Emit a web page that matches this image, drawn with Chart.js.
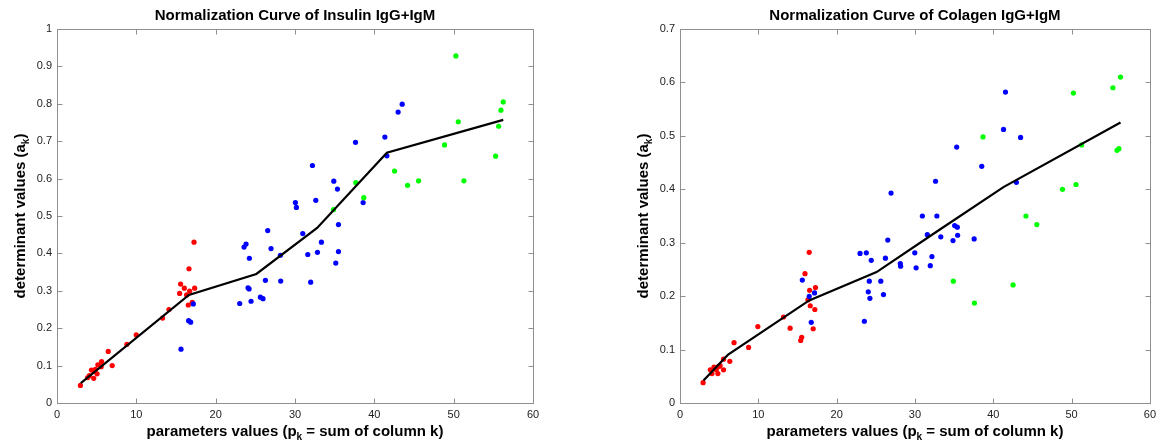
<!DOCTYPE html>
<html><head><meta charset="utf-8">
<script src="https://cdn.jsdelivr.net/npm/chart.js@4.4.1/dist/chart.umd.min.js"></script>
<style>
html,body{margin:0;padding:0;background:#fff;}
#wrap{position:relative;width:1161px;height:445px;overflow:hidden;background:#fff;}
.box{position:absolute;top:0;height:445px;}
</style></head><body>
<div id="wrap">
<div class="box" style="left:0;width:580px"><canvas id="c1" width="580" height="445"></canvas></div>
<div class="box" style="left:580px;width:581px"><canvas id="c2" width="581" height="445"></canvas></div>
</div>
<script>
// ---------- Tick labels ----------
const xTicks = [0, 10, 20, 30, 40, 50, 60];
const yTicksInsulin = [0, 0.1, 0.2, 0.3, 0.4, 0.5, 0.6, 0.7, 0.8, 0.9, 1];
const yTicksColagen = [0, 0.1, 0.2, 0.3, 0.4, 0.5, 0.6, 0.7];

// ---------- Insulin IgG+IgM ----------
const insRedP = [17.27,16.64,15.58,16.05,17.35,16.72,15.46,16.34,17.05,16.55,14.11,13.31,9.99,8.81,6.46,6.96,5.62,5.57,5.15,4.73,2.95,3.87,4.08,4.34,4.63,4.84,5.05];
const insRedA = [0.430,0.359,0.318,0.307,0.307,0.299,0.293,0.289,0.269,0.262,0.250,0.227,0.182,0.157,0.138,0.100,0.111,0.097,0.102,0.084,0.047,0.068,0.073,0.088,0.066,0.090,0.078];
const insBlueP = [43.51,43.0,41.33,41.58,37.63,32.2,34.89,35.35,32.62,30.05,30.18,38.59,35.48,30.98,33.33,26.56,26.98,23.58,23.83,24.25,28.16,31.61,32.83,35.48,35.14,26.27,28.2,31.98,24.08,24.21,25.64,25.97,24.46,23.03,17.18,16.59,16.85,15.63];
const insBlueA = [0.799,0.778,0.711,0.661,0.697,0.635,0.593,0.572,0.542,0.536,0.523,0.536,0.477,0.453,0.430,0.461,0.413,0.417,0.425,0.387,0.395,0.397,0.403,0.405,0.374,0.328,0.326,0.323,0.308,0.305,0.283,0.279,0.272,0.266,0.265,0.220,0.216,0.144];
const insGreenP = [50.28,50.58,55.96,56.25,55.67,48.85,55.29,42.55,44.19,45.58,51.29,37.67,38.67,34.85];
const insGreenA = [0.928,0.752,0.783,0.805,0.740,0.690,0.660,0.620,0.582,0.594,0.594,0.589,0.549,0.517];
const insCurveP = [3.0,16.63,25.13,32.79,41.58,56.25];
const insCurveA = [0.053,0.289,0.345,0.468,0.669,0.757];

// ---------- Colagen IgG+IgM ----------
const colRedP = [16.5,15.96,16.55,17.3,16.34,16.63,17.22,17.01,13.22,14.06,15.54,15.41,9.94,6.9,8.76,5.56,6.36,5.56,5.05,5.12,4.76,4.34,3.87,4.08,4.63,4.84,2.95];
const colRedA = [0.282,0.242,0.211,0.216,0.193,0.182,0.175,0.139,0.161,0.140,0.123,0.117,0.143,0.113,0.104,0.082,0.078,0.062,0.069,0.070,0.067,0.067,0.062,0.055,0.062,0.055,0.038];
const colBlueP = [41.56,41.31,43.49,35.33,38.53,42.95,32.63,26.95,30.95,32.8,35.07,35.41,31.58,35.45,33.3,34.86,37.56,26.53,22.99,23.79,24.42,26.23,29.98,32.17,28.13,28.17,30.15,31.96,25.64,24.17,24.04,25.98,24.25,23.54,15.62,16.5,17.18,16.76];
const colBlueA = [0.582,0.512,0.497,0.479,0.443,0.413,0.415,0.393,0.350,0.350,0.332,0.329,0.315,0.314,0.311,0.304,0.307,0.305,0.280,0.281,0.267,0.271,0.281,0.274,0.261,0.256,0.253,0.257,0.228,0.228,0.208,0.203,0.196,0.153,0.230,0.1995,0.206,0.151];
const colGreenP = [56.25,55.28,50.23,55.8,56.04,51.28,38.69,48.84,50.57,44.17,45.56,34.9,42.53,37.6];
const colGreenA = [0.610,0.590,0.580,0.473,0.476,0.483,0.498,0.400,0.409,0.350,0.334,0.228,0.221,0.187];
const colCurveP = [3.0,6.1,16.5,25.1,32.8,41.3,56.25];
const colCurveA = [0.042,0.090,0.192,0.245,0.321,0.404,0.525];

// ---------- Texts ----------
const titleInsulin = 'Normalization Curve of Insulin IgG+IgM';
const titleColagen = 'Normalization Curve of Colagen IgG+IgM';
const xTitleParts = [['parameters values (p', false], ['k', true], [' = sum of column k)', false]];
const yTitleParts = [['determinant values (a', false], ['k', true], [')', false]];

const FONT = '"Liberation Sans", Arial, sans-serif';
const zip = (xs, ys) => xs.map((x, i) => ({x: x, y: ys[i]}));

function drawRich(ctx, parts, cx, cy) {
  const big = 'bold 15px ' + FONT, small = 'bold 10px ' + FONT;
  let w = 0;
  parts.forEach(([t, sub]) => { ctx.font = sub ? small : big; w += ctx.measureText(t).width; });
  let x = cx - w / 2;
  ctx.textAlign = 'left'; ctx.textBaseline = 'middle';
  parts.forEach(([t, sub]) => {
    ctx.font = sub ? small : big;
    ctx.fillText(t, x, sub ? cy + 5 : cy);
    x += ctx.measureText(t).width;
  });
}

const decor = {
  id: 'decor',
  beforeDatasetsDraw(chart) {
    const ctx = chart.ctx, a = chart.chartArea, xs = chart.scales.x, ys = chart.scales.y;
    ctx.save();
    ctx.strokeStyle = '#8f8f8f'; ctx.lineWidth = 1;
    const L = Math.round(a.left) + 0.5, R = Math.round(a.right) + 0.5, T = Math.round(a.top) + 0.5, B = Math.round(a.bottom) + 0.5;
    ctx.beginPath();
    ctx.rect(L, T, R - L, B - T);
    const tl = 5;
    chart.options.plugins.decor.xt.forEach(v => {
      const px = Math.round(xs.getPixelForValue(v)) + 0.5;
      ctx.moveTo(px, B); ctx.lineTo(px, B - tl);
      ctx.moveTo(px, T); ctx.lineTo(px, T + tl);
    });
    chart.options.plugins.decor.yt.forEach(v => {
      const py = Math.round(ys.getPixelForValue(v)) + 0.5;
      ctx.moveTo(L, py); ctx.lineTo(L + tl, py);
      ctx.moveTo(R, py); ctx.lineTo(R - tl, py);
    });
    ctx.stroke();
    ctx.restore();
  },
  afterDraw(chart) {
    const ctx = chart.ctx, a = chart.chartArea, o = chart.options.plugins.decor;
    const cx = (a.left + a.right) / 2, cy = (a.top + a.bottom) / 2;
    ctx.save();
    ctx.fillStyle = '#000';
    ctx.font = 'bold 15px ' + FONT;
    ctx.textAlign = 'center'; ctx.textBaseline = 'middle';
    ctx.fillText(o.title, cx, 16);
    drawRich(ctx, xTitleParts, cx, 432);
    ctx.translate(a.left - 36, cy);
    ctx.rotate(-Math.PI / 2);
    drawRich(ctx, yTitleParts, 0, 0);
    ctx.restore();
  }
};

function build(id, title, yt, ymax, leftW, rightPad, curveP, curveA, rP, rA, bP, bA, gP, gA) {
  const pt = (c) => ({type: 'scatter', pointRadius: 2.6, pointHoverRadius: 2.6, pointBackgroundColor: c, pointBorderWidth: 0, borderWidth: 0, showLine: false});
  new Chart(document.getElementById(id), {
    type: 'scatter',
    data: {
      datasets: [
        {type: 'line', data: zip(curveP, curveA), borderColor: '#000', borderWidth: 2.2, pointRadius: 0, fill: false, tension: 0},
        Object.assign(pt('#00ff00'), {data: zip(gP, gA)}),
        Object.assign(pt('#0000ff'), {data: zip(bP, bA)}),
        Object.assign(pt('#ff0000'), {data: zip(rP, rA)})
      ]
    },
    options: {
      responsive: false, animation: false, devicePixelRatio: 1,
      layout: {padding: {top: 29, right: rightPad, left: 0, bottom: 0}},
      plugins: {legend: {display: false}, tooltip: {enabled: false}, decor: {title: title, xt: xTicks, yt: yt}},
      scales: {
        x: {
          type: 'linear', min: 0, max: 60,
          grid: {display: false, drawTicks: false}, border: {display: false},
          afterBuildTicks: s => { s.ticks = xTicks.map(v => ({value: v})); },
          ticks: {autoSkip: false, maxRotation: 0, padding: 5, color: '#222', font: {family: FONT, size: 11}, callback: v => String(v)},
          afterFit: s => { s.height = 42; }
        },
        y: {
          type: 'linear', min: 0, max: ymax,
          grid: {display: false, drawTicks: false}, border: {display: false},
          afterBuildTicks: s => { s.ticks = yt.map(v => ({value: v})); },
          ticks: {autoSkip: false, padding: 5, color: '#222', font: {family: FONT, size: 11}, callback: v => String(+v.toFixed(1))},
          afterFit: s => { s.width = leftW; }
        }
      }
    },
    plugins: [decor]
  });
}

build('c1', titleInsulin, yTicksInsulin, 1, 57, 47, insCurveP, insCurveA, insRedP, insRedA, insBlueP, insBlueA, insGreenP, insGreenA);
build('c2', titleColagen, yTicksColagen, 0.7, 100, 5, colCurveP, colCurveA, colRedP, colRedA, colBlueP, colBlueA, colGreenP, colGreenA);
</script>
</body></html>
